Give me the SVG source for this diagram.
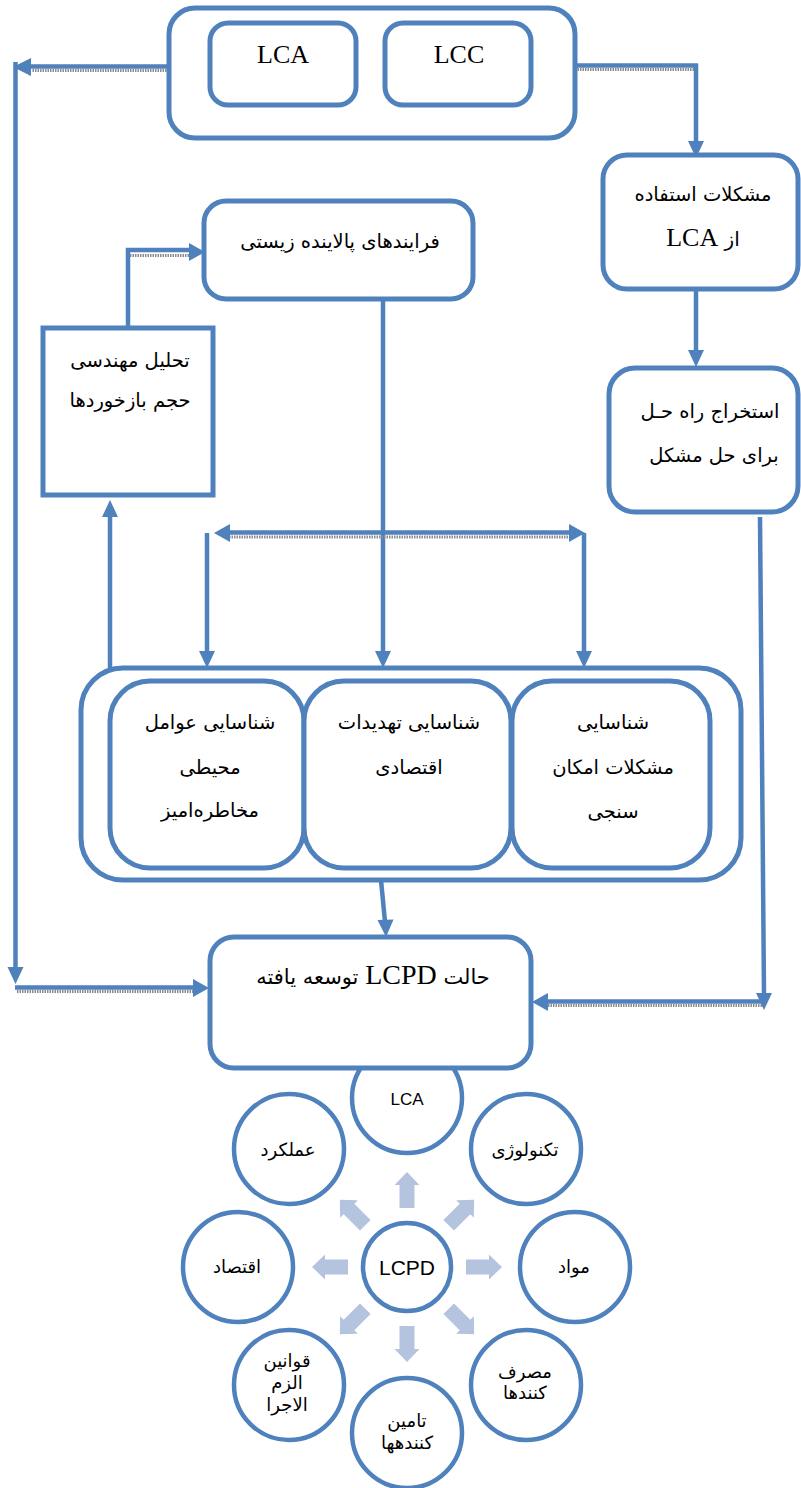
<svg xmlns="http://www.w3.org/2000/svg" width="801" height="1488" viewBox="0 0 801 1488">
<style>
.box{fill:#fff;stroke:#4F81BD;stroke-width:5}
.circ{fill:#fff;stroke:#4F81BD;stroke-width:4.5}
.ln{fill:none;stroke:#4F81BD;stroke-width:4.5}
.hatch{fill:none;stroke:#8c8c8c;stroke-width:3;stroke-dasharray:1.5 1}
.ah{fill:#4F81BD}
.t{font-family:'Liberation Serif','DejaVu Sans',serif;fill:#000;text-anchor:middle}
.fa{font-family:'DejaVu Sans','Liberation Serif',sans-serif;fill:#000;text-anchor:middle;font-size:19.5px}
.c{font-family:'Liberation Sans','DejaVu Sans',sans-serif;fill:#000;text-anchor:middle}
.cf{font-size:18px}
.blk{fill:#B4C4DE}
</style>
<defs>
<polygon id="blk" points="59,-7.5 82,-7.5 82,-12.5 95,0 82,12.5 82,7.5 59,7.5"/>
</defs>

<!-- circle diagram (under LCPD box) -->
<g id="circles">
<g id="c-lca"><circle class="circ" cx="407" cy="1098" r="55"/><text class="c" x="407" y="1105" font-size="17">LCA</text></g>
<g id="c-amalkard"><circle class="circ" cx="289" cy="1149" r="55"/><text class="c cf" x="288" y="1156" direction="rtl">عملکرد</text></g>
<g id="c-tech"><circle class="circ" cx="526" cy="1149" r="55"/><text class="c cf" x="525" y="1156" direction="rtl">تکنولوژی</text></g>
<g id="c-eghtesad"><circle class="circ" cx="238" cy="1267" r="55"/><text class="c cf" x="237" y="1273" direction="rtl">اقتصاد</text></g>
<g id="c-mavad"><circle class="circ" cx="575" cy="1267" r="55"/><text class="c cf" x="574" y="1273" direction="rtl">مواد</text></g>
<g id="c-ghavanin"><circle class="circ" cx="289" cy="1385" r="55"/><text class="c cf" direction="rtl"><tspan x="287" y="1367">قوانین</tspan><tspan x="287" y="1389">الزم</tspan><tspan x="287" y="1411">الاجرا</tspan></text></g>
<g id="c-masraf"><circle class="circ" cx="526" cy="1385" r="55"/><text class="c cf" direction="rtl"><tspan x="525" y="1378">مصرف</tspan><tspan x="525" y="1399">کنندها</tspan></text></g>
<g id="c-tamin"><circle class="circ" cx="407" cy="1433" r="55"/><text class="c cf" direction="rtl"><tspan x="407" y="1427">تامین</tspan><tspan x="407" y="1449">کنندهها</tspan></text></g>
<g id="c-lcpd"><circle class="circ" cx="407" cy="1267" r="44"/><text class="c" x="407" y="1275" font-size="21">LCPD</text></g>
<g id="block-arrows" class="blk">
<use href="#blk" transform="translate(407,1267) rotate(0)"/>
<use href="#blk" transform="translate(407,1267) rotate(45)"/>
<use href="#blk" transform="translate(407,1267) rotate(90)"/>
<use href="#blk" transform="translate(407,1267) rotate(135)"/>
<use href="#blk" transform="translate(407,1267) rotate(180)"/>
<use href="#blk" transform="translate(407,1267) rotate(225)"/>
<use href="#blk" transform="translate(407,1267) rotate(270)"/>
<use href="#blk" transform="translate(407,1267) rotate(315)"/>
</g>
</g>

<!-- connectors -->
<g id="connectors">
<path class="ln" d="M169,66.5 H30"/>
<path class="hatch" d="M169,70.5 H32"/>
<polygon class="ah" points="13,67 31,58 31,76"/>
<path class="ln" d="M15.5,62 V968"/>
<polygon class="ah" points="15.5,984 7.5,967 23.5,967"/>
<path class="ln" d="M15,987.5 H194"/>
<path class="hatch" d="M17,991.5 H194"/>
<polygon class="ah" points="209,988 193,979 193,997"/>
<path class="ln" d="M575,65.5 H698"/>
<path class="hatch" d="M575,69.5 H694"/>
<path class="ln" d="M696,64 V143"/>
<polygon class="ah" points="696,158 688,141 704,141"/>
<path class="ln" d="M696,289 V352"/>
<polygon class="ah" points="696,367 688,350 704,350"/>
<path class="ln" d="M760,517 L764,995"/>
<polygon class="ah" points="764,1010 756,993 772,993"/>
<path class="ln" d="M764,1001.5 H547"/>
<path class="hatch" d="M762,1005.5 H547"/>
<polygon class="ah" points="532,1002 548,993 548,1011"/>
<path class="ln" d="M128,328 V250 H190"/>
<path class="hatch" d="M130,255.5 H190"/>
<polygon class="ah" points="205,252 189,243 189,261"/>
<path class="ln" d="M383,300 V653"/>
<polygon class="ah" points="383,668 375,651 391,651"/>
<path class="ln" d="M229,532.5 H570"/>
<path class="hatch" d="M229,537 H570"/>
<polygon class="ah" points="214,533 230,524 230,542"/>
<polygon class="ah" points="585,533 569,524 569,542"/>
<path class="ln" d="M207,533 V653"/>
<polygon class="ah" points="207,668 199,651 215,651"/>
<path class="ln" d="M584,533 V653"/>
<polygon class="ah" points="584,668 576,651 592,651"/>
<path class="ln" d="M110,668 V515"/>
<polygon class="ah" points="110,500 102,517 118,517"/>
<path class="ln" d="M381,880 L385,922"/>
<polygon class="ah" points="386,937 377.5,920 393.5,919.5"/>
</g>

<g id="top-group">
<rect class="box" x="169" y="8" width="406" height="130" rx="26"/>
</g>
<g id="lca"><rect class="box" x="210" y="23" width="146" height="82" rx="18"/><text class="t" x="283" y="63" font-size="26">LCA</text></g>
<g id="lcc"><rect class="box" x="385" y="23" width="146" height="82" rx="18"/><text class="t" x="459" y="63" font-size="26">LCC</text></g>

<g id="mashkelat"><rect class="box" x="603" y="155" width="195" height="134" rx="24"/>
<text class="fa" x="703" y="201" direction="rtl">مشکلات استفاده</text>
<text class="t" x="703" y="246" font-size="26" direction="rtl"><tspan font-size="20" font-family="DejaVu Sans">از </tspan>LCA</text></g>

<g id="farayand"><rect class="box" x="204" y="201" width="269" height="98" rx="22"/>
<text class="fa" x="340" y="248" direction="rtl">فرایندهای پالاینده زیستی</text></g>

<g id="tahlil"><rect class="box" x="43" y="328" width="170" height="167"/>
<text class="fa" x="130" y="367" direction="rtl">تحلیل مهندسی</text>
<text class="fa" x="130" y="407" direction="rtl">حجم بازخوردها</text></g>

<g id="estekhraj"><rect class="box" x="609" y="368" width="189" height="144" rx="26"/>
<text class="fa" x="710" y="418" direction="rtl">استخراج راه حـل</text>
<text class="fa" x="714" y="462" direction="rtl">برای حل مشکل</text></g>

<g id="shenasayi-group"><rect class="box" x="81" y="668" width="660" height="212" rx="42"/></g>
<g id="avamel"><rect class="box" x="110" y="681" width="194" height="187" rx="40"/>
<text class="fa" x="210" y="729" direction="rtl">شناسایی عوامل</text>
<text class="fa" x="210" y="774" direction="rtl">محیطی</text>
<text class="fa" x="210" y="817" direction="rtl">مخاطره‌امیز</text></g>
<g id="tahdidat"><rect class="box" x="304" y="681" width="207" height="187" rx="40"/>
<text class="fa" x="409" y="729" direction="rtl">شناسایی تهدیدات</text>
<text class="fa" x="409" y="774" direction="rtl">اقتصادی</text></g>
<g id="emkan"><rect class="box" x="512" y="681" width="198" height="187" rx="40"/>
<text class="fa" x="613" y="729" direction="rtl">شناسایی</text>
<text class="fa" x="613" y="774" direction="rtl">مشکلات امکان</text>
<text class="fa" x="613" y="818" direction="rtl">سنجی</text></g>

<g id="lcpd-box"><rect class="box" x="210" y="937" width="321" height="131" rx="24"/>
<text class="t" x="373" y="984" font-size="28" direction="rtl"><tspan font-size="21" font-family="DejaVu Sans">حالت </tspan>LCPD<tspan font-size="21" font-family="DejaVu Sans"> توسعه یافته</tspan></text></g>
</svg>
